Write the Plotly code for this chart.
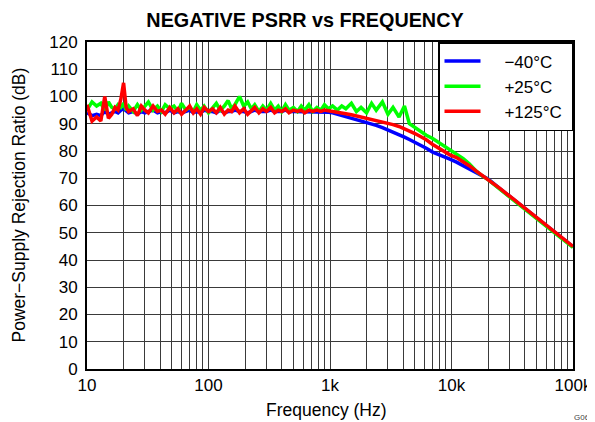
import plotly.graph_objects as go

# ---- data ----
freq_hz = [
    10, 11, 12, 13, 14, 15, 16, 17, 18, 19,
    20, 21, 22, 24, 26, 28, 30, 32, 35, 38,
    41, 44, 48, 52, 56, 60, 65, 70, 75, 80,
    86, 92, 100, 108, 116, 125, 135, 145, 155, 165,
    180, 195, 210, 225, 240, 260, 280, 300, 325, 350,
    375, 400, 430, 460, 500, 540, 580, 620, 670, 720,
    780, 840, 900, 970, 1050, 1150, 1250, 1350, 1500, 1650,
    1800, 2000, 2200, 2400, 2700, 3000, 3300, 3700, 4100, 4500,
    5000, 5600, 6200, 7000, 7800, 8700, 9700, 11000, 12500, 14000,
    16000, 18000, 20000, 25000, 32000, 40000, 50000, 63000, 80000, 100000,
]

psrr_m40 = [
    94, 93, 93.5, 93, 94.5, 93.5, 94, 94.5, 94, 95,
    95.5, 94.5, 94, 94.5, 93.5, 94.5, 94, 94.5, 95, 94,
    94.5, 94, 95, 94, 94.5, 94, 94.5, 95, 94, 94.5,
    94, 95, 94.5, 94.5, 94, 95, 94, 94.5, 94.5, 95,
    94.5, 94.5, 94, 94.5, 95, 94.5, 94.5, 94.5, 95, 94.5,
    94.5, 94.5, 95, 94.5, 94.5, 94.5, 94.5, 94.5, 94.5, 94.5,
    94.5, 94.5, 94.3, 94.2, 94, 93.5, 93.1, 92.7, 92.2, 91.7,
    91.2, 90.6, 90, 89.4, 88.6, 87.8, 87, 86.0, 85.1, 84.2,
    83.2, 82.1, 81, 79.6, 78.8, 77.9, 77, 75.9, 74.6, 73.3,
    72, 70.8, 69.7, 66.2, 62.4, 59, 55.5, 52, 48.3, 44.9,
]

psrr_p25 = [
    95, 98, 96.5, 97.5, 95, 98, 96, 95.5, 97, 96,
    97.5, 95, 96.5, 94.5, 97, 95, 96.5, 98, 95, 96.5,
    94.5, 97, 95.5, 96.5, 94.5, 97.5, 95, 96, 94.5, 97,
    95, 96.5, 94, 96, 97.5, 95, 96.5, 98.5, 95.5, 97,
    100, 96.5, 98, 95.5, 97, 94.5, 96.5, 95, 97.5, 95,
    96.5, 94.5, 97, 95, 96, 94.5, 96.5, 95, 97, 94.5,
    96, 95, 97, 95.5, 96.5, 95, 96.5, 95.5, 97.5, 94.5,
    96, 94, 97.5, 95, 98, 93.5, 96, 92.5, 96.5, 90,
    88.5, 87, 85.8, 84.6, 83.2, 81.8, 80.4, 78.9, 77.2, 75.3,
    72.6, 70.8, 69.5, 66, 62.1, 58.7, 55.1, 51.6, 48, 44.6,
]

psrr_p125 = [
    97, 91, 92.5, 91, 100, 92, 93.5, 96, 95, 99,
    105, 96, 94.5, 95.5, 93, 96.5, 95, 94, 96.5, 94.5,
    95, 93.5, 96, 94, 95.5, 93.5, 95, 96.5, 94, 95.5,
    93.5, 96, 94.5, 95.5, 94, 96, 93.5, 95, 94.5, 96.5,
    94, 95.5, 93.5, 95, 96, 94, 95.5, 94.5, 96, 94,
    95, 94.5, 95.5, 94, 95, 94.5, 95, 94, 95, 94.5,
    95, 94.5, 95, 94.8, 94.6, 94.2, 94, 93.7, 93.3, 92.9,
    92.5, 92, 91.5, 91, 90.8, 90.2, 89.7, 89.0, 88.2, 87.4,
    86.4, 85.2, 84.1, 82.4, 81.1, 79.8, 78.6, 77.6, 76.2, 74.6,
    72.6, 71, 69.7, 66.3, 62.5, 59.1, 55.6, 52.1, 48.4, 45,
]

series_names = ["\u221240\u00b0C", "+25\u00b0C", "+125\u00b0C"]
series_values = [psrr_m40, psrr_p25, psrr_p125]
series_colors = ["#0000ff", "#00ff00", "#ff0000"]

x_major_vals = [10, 100, 1000, 10000, 100000]
x_major_text = ["10", "100", "1k", "10k", "100k"]

# all gridline positions on the log axis (1..9 per decade)
x_tickvals = []
x_ticktext = []
for d in [10, 100, 1000, 10000]:
    for m in range(1, 10):
        v = d * m
        x_tickvals.append(v)
        x_ticktext.append(x_major_text[x_major_vals.index(v)] if v in x_major_vals else "")
x_tickvals.append(100000)
x_ticktext.append("100k")

FONT = "Arial, Liberation Sans, sans-serif"
NB = "\u00a0"

# the page body adds an 8px margin, so the figure is 8px smaller than the window
W, H = 587, 414

fig = go.Figure()
for name, vals, col in zip(series_names, series_values, series_colors):
    fig.add_trace(go.Scatter(x=freq_hz, y=vals, mode="lines", name=NB * 4 + name + NB,
                             line=dict(color=col, width=3.5)))

fig.update_layout(
    width=W, height=H,
    margin=dict(l=79, r=22, t=34, b=53, autoexpand=False),
    paper_bgcolor="white", plot_bgcolor="white",
    font=dict(family=FONT, color="black", size=17),
    title=dict(text="<b>NEGATIVE PSRR vs FREQUENCY</b>", x=297 / W, xanchor="center",
               y=1 - 12 / H, yanchor="middle", xref="container", yref="container",
               font=dict(size=19.8, family=FONT, color="black")),
    showlegend=True,
    legend=dict(x=1, y=1, xanchor="right", yanchor="top", bgcolor="white",
                bordercolor="black", borderwidth=1.5, itemwidth=36,
                font=dict(size=17, family=FONT, color="black")),
)

fig.update_xaxes(
    type="log", range=[1, 5], automargin=False,
    tickmode="array", tickvals=x_tickvals, ticktext=x_ticktext,
    showgrid=True, gridcolor="#3a3a3a", gridwidth=1,
    showline=True, linecolor="black", linewidth=2, mirror=True,
    ticks="", tickfont=dict(size=17),
)
fig.update_yaxes(
    range=[0, 120], dtick=10, tick0=0, automargin=False,
    showgrid=True, gridcolor="#3a3a3a", gridwidth=1,
    showline=True, linecolor="black", linewidth=2, mirror=True,
    ticks="", tickfont=dict(size=17), ticklabelstandoff=4,
    zeroline=False,
)

# axis titles placed like the reference
fig.add_annotation(text="Frequency (Hz)", xref="paper", yref="paper", x=(326 - 87) / 486, y=0,
                   yshift=-41, showarrow=False, font=dict(size=17.5),
                   xanchor="center", yanchor="middle")
fig.add_annotation(text="Power\u2212Supply Rejection Ratio (dB)", xref="paper", yref="paper",
                   x=0, y=0.5, xshift=-69, textangle=-90, showarrow=False,
                   font=dict(size=17.5), xanchor="center", yanchor="middle")
fig.add_annotation(text="G064", xref="paper", yref="paper", x=1.0, y=0, xshift=11,
                   yshift=-48, showarrow=False, font=dict(size=8, color="#444"),
                   xanchor="center", yanchor="middle")

fig.write_html("out.html")
